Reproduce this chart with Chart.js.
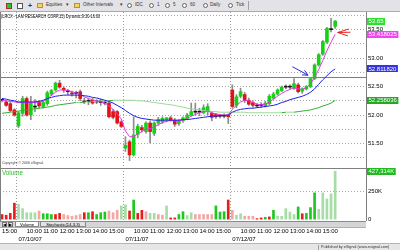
<!DOCTYPE html>
<html>
<head>
<meta charset="utf-8">
<title>LRCX 15 min</title>
<script src="https://cdn.jsdelivr.net/npm/chart.js@4.4.1/dist/chart.umd.min.js"></script>
<style>
  html, body { margin: 0; padding: 0; background: #fff; }
  body { position: relative; width: 400px; height: 250px; overflow: hidden; font-family: "Liberation Sans", Arial, sans-serif; color: #000; }
  .abs { position: absolute; white-space: nowrap; line-height: 1; }
  #toolbar { position: absolute; left: 0; top: 0; width: 400px; height: 11px; background: #e3e2e6; border-bottom: 1px solid #a9a9b0; font-size: 4.6px; color: #333; }
  #toolbar .t { position: absolute; top: 3.2px; white-space: nowrap; line-height: 1; }
  #toolbar .circ { position: absolute; top: 2.6px; width: 5px; height: 5px; border: 0.7px solid #666; border-radius: 50%; box-sizing: border-box; background: #f6f6f6; }
  #toolbar .fold { position: absolute; top: 3px; width: 6px; height: 4.6px; background: #f2d36b; border: 0.6px solid #b8952a; box-sizing: border-box; }
  #toolbar .sep { position: absolute; top: 1px; width: 1px; height: 9px; background: #a0a0a8; }
  #chartWrap { position: absolute; left: 0; top: 12px; width: 400px; height: 231px; }
  #title { left: 1px; top: 13.6px; font-size: 5px; transform: scaleX(0.77); transform-origin: 0 0; }
  #copy { left: 2px; top: 162.4px; font-size: 3.6px; color: #444; }
  #volTitle { left: 2px; top: 170.4px; font-size: 6.3px; color: #2cb82c; }
  #tabs { position: absolute; left: 0; top: 220.5px; width: 366px; height: 5.5px; background: #d5d5d8; border-top: 1px solid #8c8c90; border-bottom: 0.5px solid #b0b0b4; font-size: 4.2px; }
  #tabs .btn { position: absolute; top: 0.5px; width: 5px; height: 4.5px; background: #ececec; border: 0.5px solid #777; box-sizing: border-box; font-size: 3.5px; text-align: center; line-height: 4px; }
  #tabs .tab { position: absolute; top: 0; height: 5.5px; box-sizing: border-box; border: 0.5px solid #888; border-top: none; text-align: center; line-height: 5px; white-space: nowrap; }
  #footer { position: absolute; left: 0; top: 243px; width: 400px; height: 7px; background: #e6e6e9; border-top: 1px solid #b4b4b8; }
  #footer .box { position: absolute; left: 318px; top: 0.5px; width: 81px; height: 5px; border-left: 1px solid #a0a0a4; font-size: 3.8px; line-height: 5px; color: #333; padding-left: 2px; white-space: nowrap; }
</style>
</head>
<body>
<div id="toolbar">
  <span class="abs" style="left:6px;top:2.5px;width:6px;height:6px;background:#2fc42f;border:0.7px solid #a03030;box-sizing:border-box"></span>
  <span class="abs" style="left:17px;top:2.5px;width:6px;height:6px;background:#fff;border:0.7px solid #555;box-sizing:border-box"></span>
  <span class="t" style="left:28px;top:2px;font-size:7px;font-weight:bold">+</span>
  <span class="fold" style="left:37px"></span><span class="t" style="left:46px">Equities</span><span class="t" style="left:66px">▾</span>
  <span class="fold" style="left:74px"></span><span class="t" style="left:83px">Other Intervals</span><span class="t" style="left:120px">▾</span>
  <span class="circ" style="left:127px"></span><span class="t" style="left:135px">IDC</span>
  <span class="circ" style="left:149px"></span><span class="t" style="left:157px">1</span>
  <span class="circ" style="left:165px"></span><span class="t" style="left:173px">5</span>
  <span class="circ" style="left:182px"></span><span class="t" style="left:190px">60</span>
  <span class="circ" style="left:203px"></span><span class="t" style="left:210px">Daily</span>
  <span class="circ" style="left:228px"></span><span class="t" style="left:236px">Tick</span>
  <span class="sep" style="left:248px"></span>
</div>

<div id="chartWrap"><canvas id="chart"></canvas></div>

<div id="title" class="abs">(LRCX - LAM RESEARCH CORP,15) Dynamic,9:30-16:00</div>
<div id="copy" class="abs">Copyright © 2006 eSignal.</div>
<div id="volTitle" class="abs">Volume</div>

<div id="tabs">
  <span class="btn" style="left:2px">◀</span>
  <span class="btn" style="left:8px">▶</span>
  <span class="tab" style="left:15px;width:24px;background:#fff">Volume</span>
  <span class="tab" style="left:40px;width:46px;background:#e2e2e4">Stochastic(14,3,3)</span>
</div>

<div id="footer"><div class="box">Published by eSignal (www.esignal.com)</div></div>

<script>
  const FONT = '"Liberation Sans", Arial, sans-serif';

  // sessions shown: the tail of 07/09 and three full days of 15 min bars
  const tradeDays = ['07/09/07', '07/10/07', '07/11/07', '07/12/07'];
  const sessionTimes = ['09:30', '09:45', '10:00', '10:15', '10:30', '10:45', '11:00', '11:15', '11:30', '11:45',
    '12:00', '12:15', '12:30', '12:45', '13:00', '13:15', '13:30', '13:45', '14:00', '14:15',
    '14:30', '14:45', '15:00', '15:15', '15:30', '15:45'];
  const firstDayFrom = '15:00';
  const emptySlots = 7;

  const opens = [
    52.26, 52.23, 52.20, 52.09,
    51.81, 52.03, 52.29, 52.00, 52.14, 52.22, 52.15, 52.20, 52.37, 52.44,
    52.56, 52.47, 52.41, 52.39, 52.38, 52.41, 52.23, 52.24, 52.26, 52.23,
    52.22, 52.21, 52.21, 52.06, 52.06, 51.88,
    51.42, 51.53, 51.30, 51.66, 51.78, 51.71, 51.86, 51.68, 51.86, 51.88,
    51.92, 51.95, 51.91, 51.85, 51.90, 51.94, 52.00, 52.05, 52.05, 52.04,
    52.06, 52.03, 52.01, 51.98, 51.98, 52.00,
    52.44, 52.17, 52.33, 52.36, 52.26, 52.22, 52.16, 52.17, 52.16, 52.20,
    52.30, 52.37, 52.43, 52.49, 52.49, 52.47, 52.53, 52.42, 52.46, 52.50,
    52.64, 52.88, 53.07, 53.28, 53.50, 53.56
  ];
  const highs = [
    52.28, 52.26, 52.23, 52.11,
    52.06, 52.33, 52.32, 52.33, 52.27, 52.26, 52.24, 52.42, 52.45, 52.58,
    52.61, 52.50, 52.45, 52.42, 52.42, 52.44, 52.30, 52.30, 52.29, 52.27,
    52.28, 52.24, 52.24, 52.10, 52.08, 51.90,
    51.62, 51.56, 51.97, 51.84, 51.82, 51.88, 51.90, 51.88, 51.96, 51.97,
    51.96, 51.98, 51.94, 51.92, 51.97, 52.03, 52.21, 52.21, 52.12, 52.18,
    52.20, 52.06, 52.03, 52.01, 52.02, 52.02,
    52.53, 52.36, 52.47, 52.40, 52.30, 52.25, 52.20, 52.22, 52.24, 52.36,
    52.40, 52.46, 52.51, 52.53, 52.53, 52.64, 52.56, 52.48, 52.52, 52.66,
    52.90, 53.08, 53.31, 53.54, 53.70, 53.66
  ];
  const lows = [
    52.23, 52.15, 52.06, 51.98,
    51.78, 51.98, 51.98, 51.92, 52.06, 52.12, 52.12, 52.17, 52.34, 52.42,
    52.47, 52.40, 52.36, 52.33, 52.30, 52.25, 52.20, 52.18, 52.19, 52.20,
    52.17, 52.18, 51.95, 51.93, 51.84, 51.78,
    51.36, 51.20, 51.28, 51.60, 51.70, 51.68, 51.51, 51.64, 51.82, 51.85,
    51.88, 51.89, 51.80, 51.82, 51.87, 51.92, 51.98, 52.00, 51.99, 52.02,
    52.00, 51.90, 51.94, 51.95, 51.95, 51.85,
    52.12, 52.13, 52.30, 52.22, 52.17, 52.14, 52.13, 52.13, 52.14, 52.18,
    52.28, 52.35, 52.41, 52.46, 52.46, 52.45, 52.39, 52.38, 52.44, 52.48,
    52.62, 52.86, 53.05, 53.26, 53.46, 53.52
  ];
  const closes = [
    52.26, 52.17, 52.08, 52.00,
    52.04, 52.29, 52.00, 52.21, 52.14, 52.16, 52.22, 52.39, 52.43, 52.56,
    52.49, 52.44, 52.41, 52.37, 52.38, 52.29, 52.23, 52.24, 52.21, 52.23,
    52.22, 52.21, 51.97, 51.96, 51.86, 51.80,
    51.47, 51.30, 51.65, 51.80, 51.74, 51.86, 51.71, 51.86, 51.92, 51.94,
    51.95, 51.92, 51.84, 51.89, 51.95, 52.00, 52.06, 52.05, 52.05, 52.13,
    52.15, 51.96, 51.97, 51.98, 51.98, 51.97,
    52.15, 52.32, 52.41, 52.26, 52.19, 52.17, 52.16, 52.17, 52.21, 52.33,
    52.37, 52.44, 52.49, 52.49, 52.49, 52.55, 52.41, 52.46, 52.50, 52.64,
    52.88, 53.06, 53.29, 53.52, 53.50, 53.65
  ];

  // moving averages (pink / blue / green)
  const fastAvg = [
    52.26, 52.25, 52.24, 52.23,
    52.22, 52.22, 52.22, 52.22, 52.22, 52.23, 52.24, 52.28, 52.35, 52.40,
    52.44, 52.44, 52.43, 52.41, 52.39, 52.36, 52.32, 52.29, 52.27, 52.25,
    52.23, 52.21, 52.16, 52.10, 52.02, 51.93,
    51.72, 51.62, 51.62, 51.67, 51.71, 51.75, 51.76, 51.79, 51.83, 51.87,
    51.89, 51.91, 51.90, 51.90, 51.91, 51.94, 51.98, 52.01, 52.04, 52.06,
    52.07, 52.04, 52.02, 52.01, 52.00, 52.00,
    52.10, 52.17, 52.23, 52.26, 52.25, 52.22, 52.19, 52.18, 52.19, 52.23,
    52.28, 52.33, 52.38, 52.42, 52.45, 52.48, 52.46, 52.45, 52.48, 52.55,
    52.66, 52.80, 52.96, 53.13, 53.28, 53.42
  ];
  const midAvg = [
    52.29, 52.28, 52.26, 52.25,
    52.23, 52.23, 52.23, 52.23, 52.23, 52.24, 52.26, 52.29, 52.31, 52.33,
    52.34, 52.35, 52.35, 52.35, 52.35, 52.35, 52.34, 52.33, 52.31, 52.30,
    52.28, 52.26, 52.24, 52.21, 52.17, 52.13,
    52.08, 52.03, 51.99, 51.96, 51.94, 51.93, 51.92, 51.91, 51.91, 51.91,
    51.91, 51.91, 51.91, 51.91, 51.92, 51.92, 51.93, 51.94, 51.95, 51.96,
    51.97, 51.98, 51.98, 51.99, 51.99, 52.00,
    52.05, 52.08, 52.10, 52.11, 52.12, 52.12, 52.13, 52.14, 52.15, 52.16,
    52.17, 52.19, 52.22, 52.24, 52.27, 52.29, 52.31, 52.33, 52.36, 52.40,
    52.46, 52.54, 52.62, 52.69, 52.76, 52.81
  ];
  const slowAvg = [
    52.03, 52.04, 52.05, 52.06,
    52.07, 52.08, 52.09, 52.10, 52.11, 52.12, 52.13, 52.14, 52.15, 52.17,
    52.18, 52.19, 52.20, 52.21, 52.22, 52.22, 52.23, 52.23, 52.24, 52.24,
    52.25, 52.25, 52.25, 52.26, 52.26, 52.26,
    52.26, 52.26, 52.26, 52.25, 52.25, 52.24, 52.23, 52.22, 52.21, 52.20,
    52.19, 52.18, 52.17, 52.15, 52.14, 52.12, 52.11, 52.10, 52.09, 52.08,
    52.07, 52.06, 52.06, 52.05, 52.05, 52.05,
    52.05, 52.05, 52.05, 52.05, 52.04, 52.04, 52.04, 52.04, 52.04, 52.04,
    52.04, 52.04, 52.04, 52.05, 52.05, 52.05, 52.06, 52.07, 52.08, 52.09,
    52.11, 52.13, 52.16, 52.18, 52.21, 52.26
  ];

  // volume in thousands, and its shade per bar (G/R strong, g/r pale), one string per day
  const volumeK = [
    45, 39, 55, 145,
    136, 97, 61, 61, 61, 76, 52, 52, 45, 45, 55, 45, 36, 30, 36, 45, 61, 61, 70, 45, 61, 67, 76, 61, 82, 121,
    130, 76, 173, 55, 82, 70, 55, 55, 45, 39, 121, 15, 15, 45, 70, 36, 61, 45, 45, 45, 45, 45, 121, 67, 70, 173,
    82, 39, 52, 30, 30, 30, 9, 15, 21, 24, 82, 30, 30, 97, 67, 45, 112, 52, 55, 106, 236, 91, 236, 182, 227, 427
  ];
  const volumeTone = [
    'RRRR',
    'gggggrGGGRRrrrrrRGRGGGrrrg',
    'gRGRRrggrrgRRGGggrrrrrGGGR',
    'rggrrrRRGRGgggggGRGGGggggg',
  ];

  const levelPrice = 52.66;
  const priceTicks = [51.25, 51.5, 51.75, 52.0, 52.25, 52.5, 52.75, 53.0, 53.25, 53.5, 53.75];
  const volumeTicks = [0, 250];
  const volumeTickText = ['0', '250K'];
  const tagText = { last: '53.65', fast: '53.418025', mid: '52.811820', slow: '52.258036', volume: '427,314K' };
  const blueArrow = { from: [70.6, 52.85], to: [74.4, 52.70] };
  const redArrow = { tip: [81.6, 53.45], tails: [[84.3, 53.51], [84.7, 53.455], [84.1, 53.39]] };

  const barDay = [];
  const barTime = [];
  tradeDays.forEach((day, d) => {
    const times = d === 0 ? sessionTimes.slice(sessionTimes.indexOf(firstDayFrom)) : sessionTimes;
    times.forEach((t) => { barDay.push(day); barTime.push(t); });
  });
  const categories = barDay.map((d, i) => `${d} ${barTime[i]}`);
  for (let k = 0; k < emptySlots; k++) categories.push(' '.repeat(k + 1));
  const dayStarts = barTime.map((t, i) => (t === '09:30' ? i : -1)).filter((i) => i >= 0);

  const UP = '#14d214';
  const DOWN = '#e01414';
  const FLAT = '#111111';
  const TONES = { G: '#1ec81e', g: '#a6dca6', R: '#e81c1c', r: '#f2a6a6' };

  const wicks = lows.map((l, i) => [l, highs[i]]);
  const bodies = opens.map((o, i) => [o, closes[i]]);
  const bodyColors = opens.map((o, i) => (closes[i] > o ? UP : closes[i] < o ? DOWN : FLAT));
  const volColors = volumeTone.join('').split('').map((c) => TONES[c]);

  const isMultiple = (v, step) => Math.abs(v / step - Math.round(v / step)) < 1e-6;

  // fixed axis boxes, and no extra room for half labels at the pane edges
  const fixWidth = (s) => { s.width = 34; s.paddingTop = 0; s.paddingBottom = 0; };
  const fixHeight = (h) => (s) => { s.height = h; s.paddingLeft = 0; s.paddingRight = 0; };

  const panes = {
    id: 'panes',
    beforeDatasetsDraw(chart) {
      const { ctx, chartArea, scales } = chart;
      const ly = Math.round(scales.y.getPixelForValue(levelPrice)) + 0.5;
      ctx.save();
      ctx.strokeStyle = '#6e6ef0';
      ctx.lineWidth = 1;
      ctx.beginPath();
      ctx.moveTo(chartArea.left, ly);
      ctx.lineTo(chartArea.right, ly);
      ctx.stroke();
      ctx.restore();
    },
    afterDraw(chart) {
      const { ctx, chartArea, scales } = chart;
      const { x, y, yv } = scales;
      ctx.save();

      // pane frames
      ctx.strokeStyle = '#808080';
      ctx.lineWidth = 1;
      ctx.beginPath();
      ctx.moveTo(chartArea.left + 0.5, chartArea.top);
      ctx.lineTo(chartArea.left + 0.5, chartArea.bottom);
      ctx.moveTo(chartArea.right + 0.5, chartArea.top);
      ctx.lineTo(chartArea.right + 0.5, chartArea.bottom);
      ctx.moveTo(chartArea.left, Math.round(y.bottom) + 0.5);
      ctx.lineTo(chartArea.right + 2, Math.round(y.bottom) + 0.5);
      ctx.stroke();

      // hand drawn arrows
      const px = (p) => [x.getPixelForValue(p[0]), y.getPixelForValue(p[1])];
      const [bx0, by0] = px(blueArrow.from);
      const [bx1, by1] = px(blueArrow.to);
      const ang = Math.atan2(by1 - by0, bx1 - bx0);
      ctx.strokeStyle = '#2a2ae6';
      ctx.beginPath();
      ctx.moveTo(bx0, by0);
      ctx.lineTo(bx1, by1);
      ctx.moveTo(bx1 - 6 * Math.cos(ang - 0.45), by1 - 6 * Math.sin(ang - 0.45));
      ctx.lineTo(bx1, by1);
      ctx.lineTo(bx1 - 6 * Math.cos(ang + 0.45), by1 - 6 * Math.sin(ang + 0.45));
      ctx.stroke();

      const [rx, ry] = px(redArrow.tip);
      ctx.strokeStyle = '#e82020';
      ctx.beginPath();
      redArrow.tails.forEach((t) => {
        const [tx, ty] = px(t);
        ctx.moveTo(rx, ry);
        ctx.lineTo(tx, ty);
      });
      ctx.stroke();

      // last value tags on the right axis
      const tags = [
        { scale: y, value: closes[closes.length - 1], text: tagText.last, bg: '#28e428' },
        { scale: y, value: fastAvg[fastAvg.length - 1], text: tagText.fast, bg: '#f046f0' },
        { scale: y, value: midAvg[midAvg.length - 1], text: tagText.mid, bg: '#3232e6' },
        { scale: y, value: slowAvg[slowAvg.length - 1], text: tagText.slow, bg: '#26a826' },
        { scale: yv, value: volumeK[volumeK.length - 1], text: tagText.volume, bg: '#22b822' },
      ];
      ctx.font = `6px ${FONT}`;
      ctx.textBaseline = 'middle';
      ctx.textAlign = 'left';
      tags.forEach((t) => {
        const ty = t.scale.getPixelForValue(t.value);
        const w = ctx.measureText(t.text).width + 3;
        ctx.fillStyle = t.bg;
        ctx.fillRect(chartArea.right + 1, Math.round(ty - 3.5), w, 7);
        ctx.fillStyle = '#ffffff';
        ctx.fillText(t.text, chartArea.right + 2.5, ty + 0.3);
      });
      ctx.restore();
    },
  };

  Chart.defaults.font.family = FONT;
  Chart.defaults.font.size = 6;
  Chart.defaults.color = '#000';

  new Chart(document.getElementById('chart'), {
    type: 'bar',
    data: {
      labels: categories,
      datasets: [
        { type: 'line', label: 'mid', data: midAvg, yAxisID: 'y', borderColor: '#1e1ee8', borderWidth: 1, pointRadius: 0, order: 0 },
        { type: 'line', label: 'fast', data: fastAvg, yAxisID: 'y', borderColor: '#e838e8', borderWidth: 1, pointRadius: 0, order: 0 },
        {
          type: 'line', label: 'slow', data: slowAvg, yAxisID: 'y', borderWidth: 1, pointRadius: 0, order: 0,
          segment: { borderColor: (c) => (c.p1.parsed.y > c.p0.parsed.y ? '#2fae2f' : '#98da98') },
        },
        { label: 'wick', data: wicks, yAxisID: 'y', backgroundColor: '#8c8c8c', barThickness: 1, grouped: false, order: 3 },
        { label: 'body', data: bodies, yAxisID: 'y', backgroundColor: bodyColors, barThickness: 3, minBarLength: 1, grouped: false, order: 2 },
        { label: 'volume', data: volumeK, yAxisID: 'yv', backgroundColor: volColors, barThickness: 2, grouped: false, order: 1 },
      ],
    },
    plugins: [panes],
    options: {
      responsive: true,
      maintainAspectRatio: false,
      animation: false,
      layout: { padding: 0 },
      plugins: { legend: { display: false }, tooltip: { enabled: false } },
      scales: {
        x: {
          type: 'category',
          offset: true,
          grid: {
            offset: true,
            drawTicks: false,
            color: (c) => (dayStarts.includes(c.index) ? '#9a9a9a' : 'rgba(0,0,0,0)'),
          },
          border: { display: false, dash: [1, 2] },
          ticks: {
            autoSkip: false, maxRotation: 0, minRotation: 0, align: 'start', padding: 7,
            callback: (v, i) => (barTime[i] && barTime[i].endsWith(':00') ? barTime[i] : ''),
          },
          afterFit: fixHeight(14),
        },
        x2: {
          type: 'category',
          position: 'bottom',
          offset: true,
          grid: { display: false, drawTicks: false },
          border: { display: false },
          ticks: {
            autoSkip: false, maxRotation: 0, minRotation: 0, align: 'start', padding: 1,
            callback: (v, i) => (dayStarts.includes(i) ? barDay[i] : ''),
          },
          afterFit: fixHeight(8),
        },
        y: {
          position: 'right',
          stack: 'panes',
          stackWeight: 156,
          min: 51.07,
          max: 53.81,
          afterBuildTicks: (s) => { s.ticks = priceTicks.map((value) => ({ value })); },
          grid: { drawTicks: false, color: '#a8a8a8' },
          border: { display: false, dash: [1, 2] },
          ticks: { autoSkip: false, padding: 2, callback: (v) => (isMultiple(v, 0.5) ? v.toFixed(2) : '') },
          afterFit: fixWidth,
        },
        yv: {
          position: 'right',
          stack: 'panes',
          stackWeight: 53,
          min: -12,
          max: 455,
          afterBuildTicks: (s) => { s.ticks = volumeTicks.map((value) => ({ value })); },
          grid: { drawTicks: false, color: (c) => (c.tick && c.tick.value === 250 ? '#a8a8a8' : 'rgba(0,0,0,0)') },
          border: { display: false, dash: [1, 2] },
          ticks: { autoSkip: false, padding: 2, callback: (v) => volumeTickText[volumeTicks.indexOf(v)] || '' },
          afterFit: fixWidth,
        },
      },
    },
  });
</script>
</body>
</html>
